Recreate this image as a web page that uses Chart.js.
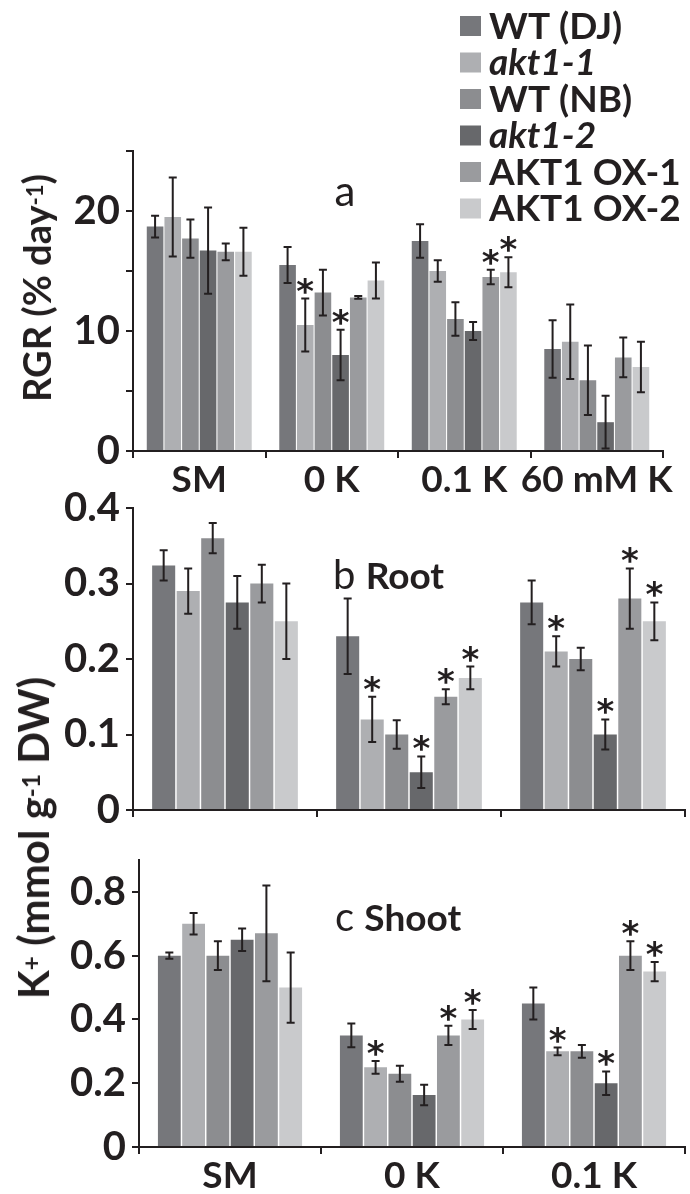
<!DOCTYPE html>
<html>
<head>
<meta charset="utf-8">
<script src="https://cdn.jsdelivr.net/npm/chart.js@4.4.0/dist/chart.umd.min.js"></script>
<style>
  body { margin: 0; background: #fff; }
  #wrap { position: relative; width: 690px; height: 1194px; overflow: hidden; font-family: Lato, sans-serif; color: #231f20; }
  canvas { position: absolute; left: 0; }
  .lbl { position: absolute; white-space: nowrap; transform: translate(-50%, -50%); }
  .ytitle { font-weight: bold; transform: translate(-50%, -50%) rotate(-90deg); }
  .sup { font-size: 0.58em; position: relative; top: -0.36em; }
  .panel { position: absolute; white-space: nowrap; transform: translateY(-50%); font-size: 40px; }
  .panel b { font-size: 37px; }
</style>
</head>
<body>
<div id="wrap">
  <canvas id="rgrChart" width="690" height="500" style="top:0"></canvas>
  <canvas id="rootChart" width="690" height="380" style="top:460px"></canvas>
  <canvas id="shootChart" width="690" height="364" style="top:830px"></canvas>

  <div class="lbl ytitle" style="left:36px; top:288px; font-size:38px">RGR (% day<span class="sup">-1</span>)</div>
  <div class="lbl ytitle" style="left:33px; top:838px; font-size:42px">K<span class="sup">+</span> (mmol g<span class="sup">-1</span> DW)</div>
  <div class="lbl" style="left:345px; top:190px; font-size:42px">a</div>
  <div class="panel" style="left:333px; top:574px">b <b>Root</b></div>
  <div class="panel" style="left:335px; top:916px">c <b>Shoot</b></div>
</div>

<script>
// categorias
const rgrGroups = ['SM', '0 K', '0.1 K', '60 mM K'];
const kGroups = ['SM', '0 K', '0.1 K'];

// linhas (ordem da legenda)
const lines = ['WT (DJ)', 'akt1-1', 'WT (NB)', 'akt1-2', 'AKT1 OX-1', 'AKT1 OX-2'];
const italicLines = [false, true, false, true, false, false];
const lineColors = ['#76777b', '#aeafb2', '#8c8d90', '#67686b', '#9a9b9e', '#c9cacc'];

// a: RGR (% day-1), uma linha por genotipo
const rgrMean = [
  [18.7, 15.5, 17.5, 8.5],
  [19.5, 10.5, 15.0, 9.1],
  [17.7, 13.2, 11.0, 5.9],
  [16.7, 8.0, 10.0, 2.4],
  [16.6, 12.8, 14.5, 7.8],
  [16.6, 14.2, 14.9, 7.0]
];
const rgrErr = [
  [0.9, 1.5, 1.4, 2.4],
  [3.3, 2.2, 0.9, 3.1],
  [1.6, 1.9, 1.4, 2.9],
  [3.6, 2.1, 0.75, 2.2],
  [0.7, 0.12, 0.6, 1.65],
  [2.0, 1.5, 1.25, 2.1]
];
const rgrStar = [
  [0, 0, 0, 0],
  [0, 1, 0, 0],
  [0, 0, 0, 0],
  [0, 1, 0, 0],
  [0, 0, 1, 0],
  [0, 0, 1, 0]
];

// b: K+ raiz (mmol g-1 DW)
const rootMean = [
  [0.324, 0.23, 0.275],
  [0.29, 0.12, 0.21],
  [0.36, 0.10, 0.20],
  [0.275, 0.05, 0.10],
  [0.30, 0.15, 0.28],
  [0.25, 0.175, 0.25]
];
const rootErr = [
  [0.02, 0.05, 0.029],
  [0.03, 0.03, 0.02],
  [0.02, 0.019, 0.015],
  [0.035, 0.021, 0.02],
  [0.025, 0.01, 0.04],
  [0.05, 0.015, 0.025]
];
const rootStar = [
  [0, 0, 0],
  [0, 1, 1],
  [0, 0, 0],
  [0, 1, 1],
  [0, 1, 1],
  [0, 1, 1]
];

// c: K+ parte aerea
const shootMean = [
  [0.60, 0.35, 0.45],
  [0.70, 0.25, 0.30],
  [0.60, 0.23, 0.30],
  [0.65, 0.163, 0.20],
  [0.67, 0.35, 0.60],
  [0.50, 0.40, 0.55]
];
const shootErr = [
  [0.01, 0.037, 0.05],
  [0.034, 0.02, 0.012],
  [0.045, 0.025, 0.02],
  [0.035, 0.032, 0.037],
  [0.15, 0.03, 0.045],
  [0.11, 0.03, 0.03]
];
const shootStar = [
  [0, 0, 0],
  [0, 1, 1],
  [0, 0, 0],
  [0, 0, 1],
  [0, 1, 1],
  [0, 1, 1]
];

const ink = '#231f20';
const yFont = { family: 'Lato', size: 40, weight: 'bold' };
const xFont = { family: 'Lato', size: 37, weight: 'bold' };

// barras de erro + asteriscos
const errBars = {
  id: 'errBars',
  afterDatasetsDraw(chart, args, opts) {
    const ctx = chart.ctx;
    const ys = chart.scales.y;
    ctx.save();
    ctx.strokeStyle = ink;
    ctx.fillStyle = ink;
    ctx.lineWidth = 2;
    ctx.font = 'bold 34px "DejaVu Sans"';
    ctx.textAlign = 'center';
    chart.data.datasets.forEach((ds, i) => {
      chart.getDatasetMeta(i).data.forEach((bar, j) => {
        const v = ds.data[j], e = opts.err[i][j];
        const top = ys.getPixelForValue(v + e);
        const bot = ys.getPixelForValue(Math.max(v - e, 0));
        ctx.beginPath();
        ctx.moveTo(bar.x, top); ctx.lineTo(bar.x, bot);
        ctx.moveTo(bar.x - 4, top); ctx.lineTo(bar.x + 4, top);
        ctx.moveTo(bar.x - 4, bot); ctx.lineTo(bar.x + 4, bot);
        ctx.stroke();
        if (opts.star[i][j]) {
          const m = ctx.measureText('*');
          const cy = top - 13;
          ctx.fillText('*', bar.x, cy + (m.actualBoundingBoxAscent - m.actualBoundingBoxDescent) / 2);
        }
      });
    });
    ctx.restore();
  }
};

// legenda no canto superior direito
const sideLegend = {
  id: 'sideLegend',
  afterDraw(chart, args, opts) {
    if (!opts.show) return;
    const ctx = chart.ctx;
    ctx.save();
    ctx.textBaseline = 'middle';
    chart.data.datasets.forEach((ds, i) => {
      const y = opts.top + i * opts.gap;
      ctx.fillStyle = ds.backgroundColor;
      ctx.fillRect(opts.left, y - 10, 21, 20);
      ctx.fillStyle = ink;
      ctx.font = (italicLines[i] ? 'italic ' : '') + 'bold 37px Lato';
      ctx.fillText(ds.label, opts.left + 29, y + 1);
    });
    ctx.restore();
  }
};

function makeChart(id, groups, means, errs, stars, cfg) {
  const datasets = lines.map((name, i) => ({
    label: name,
    data: means[i],
    backgroundColor: lineColors[i],
    categoryPercentage: 0.8,
    barPercentage: 0.94
  }));
  return new Chart(document.getElementById(id).getContext('2d'), {
    type: 'bar',
    data: { labels: groups, datasets: datasets },
    plugins: [errBars, sideLegend],
    options: {
      responsive: false,
      animation: false,
      layout: { padding: cfg.padding },
      plugins: {
        legend: { display: false },
        tooltip: { enabled: false },
        errBars: { err: errs, star: stars },
        sideLegend: cfg.legend || { show: false }
      },
      scales: {
        x: {
          border: { color: ink, width: 2 },
          grid: { drawOnChartArea: false, color: ink, lineWidth: 2, tickLength: 7 },
          ticks: { display: cfg.xLabels, color: ink, font: xFont, padding: 0, maxRotation: 0, autoSkip: false },
          afterFit: s => { s.height = cfg.xHeight; }
        },
        y: {
          min: 0,
          max: cfg.max,
          border: { color: ink, width: 2 },
          grid: { drawOnChartArea: false, color: ink, lineWidth: 2, tickLength: 7 },
          ticks: {
            stepSize: cfg.step,
            color: ink,
            font: yFont,
            padding: 6,
            callback: cfg.label
          },
          afterFit: s => { s.width = cfg.yWidth; }
        }
      }
    }
  });
}

// so rotula os multiplos de n
function every(n, dec) {
  return v => {
    const r = v / n;
    if (Math.abs(r - Math.round(r)) > 1e-6) return '';
    if (Math.abs(v) < 1e-9) return '0';
    return v.toFixed(dec);
  };
}

makeChart('rgrChart', rgrGroups, rgrMean, rgrErr, rgrStar, {
  padding: { left: 0, right: 27, top: 151, bottom: 0 },
  xHeight: 49, yWidth: 133, max: 25, step: 5, xLabels: true,
  label: every(10, 0),
  legend: { show: true, left: 460, top: 26, gap: 36.5 }
});

makeChart('rootChart', kGroups, rootMean, rootErr, rootStar, {
  padding: { left: 0, right: 5, top: 48, bottom: 0 },
  xHeight: 27, yWidth: 133, max: 0.4, step: 0.05, xLabels: false,
  label: every(0.1, 1)
});

makeChart('shootChart', kGroups, shootMean, shootErr, shootStar, {
  padding: { left: 0, right: 5, top: 9, bottom: 0 },
  xHeight: 47, yWidth: 139, max: 0.9, step: 0.1, xLabels: true,
  label: every(0.2, 1)
});
</script>
</body>
</html>
